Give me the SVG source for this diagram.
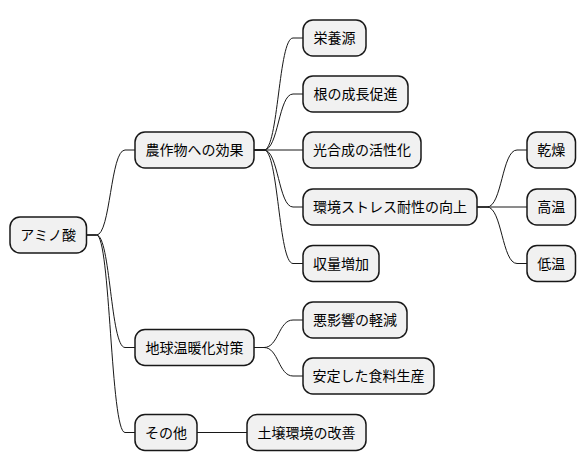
<svg xmlns="http://www.w3.org/2000/svg" width="586" height="471" viewBox="0 0 586 471">
<style>
.n rect{fill:#F1F1F1;stroke:#181818;stroke-width:1.5}
.n text{font-family:"Noto Sans CJK JP","Noto Sans CJK SC",sans-serif;font-size:14px;fill:#000;text-anchor:middle}
#edges path{fill:none;stroke:#181818;stroke-width:1}
</style>
<rect width="586" height="471" fill="#FFFFFF"/>
<g id="edges">
<path d="M86.5,235 H96.5 C110.5,235 110.5,150 125,150 H135"/>
<path d="M86.5,235 H96.5 C110.5,235 110.5,347.5 125,347.5 H135"/>
<path d="M86.5,235 H96.5 C110.5,235 110.5,432.5 125,432.5 H135"/>
<path d="M254,150 H264 C278.5,150 278.5,38 293,38 H303"/>
<path d="M254,150 H264 C278.5,150 278.5,94 293,94 H303"/>
<path d="M254,150 H303"/>
<path d="M254,150 H264 C278.5,150 278.5,207 293,207 H303"/>
<path d="M254,150 H264 C278.5,150 278.5,263.5 293,263.5 H303"/>
<path d="M477,207 H487 C502,207 502,150 517,150 H527"/>
<path d="M477,207 H527"/>
<path d="M477,207 H487 C502,207 502,263.5 517,263.5 H527"/>
<path d="M254,347.5 H264 C278.5,347.5 278.5,320 293,320 H303"/>
<path d="M254,347.5 H264 C278.5,347.5 278.5,376 293,376 H303"/>
<path d="M197,432.5 H247"/>
</g>
<g id="root" class="n"><rect x="10" y="217" width="76.5" height="36" rx="10"/><text x="48.2" y="240">アミノ酸</text></g>
<g id="crop" class="n"><rect x="135" y="132" width="119" height="36" rx="10"/><text x="194.5" y="155">農作物への効果</text></g>
<g id="nutrient" class="n"><rect x="303" y="20" width="63" height="36" rx="10"/><text x="334.5" y="43">栄養源</text></g>
<g id="root-growth" class="n"><rect x="303" y="76" width="105" height="36" rx="10"/><text x="355.5" y="99">根の成長促進</text></g>
<g id="photo" class="n"><rect x="303" y="132" width="118" height="36" rx="10"/><text x="362" y="155">光合成の活性化</text></g>
<g id="stress" class="n"><rect x="303" y="189" width="174" height="36" rx="10"/><text x="390" y="212">環境ストレス耐性の向上</text></g>
<g id="yield" class="n"><rect x="303" y="245.5" width="76" height="36" rx="10"/><text x="341" y="268.5">収量増加</text></g>
<g id="dry" class="n"><rect x="527" y="132" width="48.5" height="36" rx="10"/><text x="551.2" y="155">乾燥</text></g>
<g id="hot" class="n"><rect x="527" y="189" width="48.5" height="36" rx="10"/><text x="551.2" y="212">高温</text></g>
<g id="cold" class="n"><rect x="527" y="245.5" width="48.5" height="36" rx="10"/><text x="551.2" y="268.5">低温</text></g>
<g id="warming" class="n"><rect x="135" y="329.5" width="119" height="36" rx="10"/><text x="194.5" y="352.5">地球温暖化対策</text></g>
<g id="mitigate" class="n"><rect x="303" y="302" width="104" height="36" rx="10"/><text x="355" y="325">悪影響の軽減</text></g>
<g id="food" class="n"><rect x="303" y="358" width="131" height="36" rx="10"/><text x="368.5" y="381">安定した食料生産</text></g>
<g id="other" class="n"><rect x="135" y="414.5" width="62" height="36" rx="10"/><text x="166" y="437.5">その他</text></g>
<g id="soil" class="n"><rect x="247" y="414.5" width="119" height="36" rx="10"/><text x="306.5" y="437.5">土壌環境の改善</text></g>
</svg>
